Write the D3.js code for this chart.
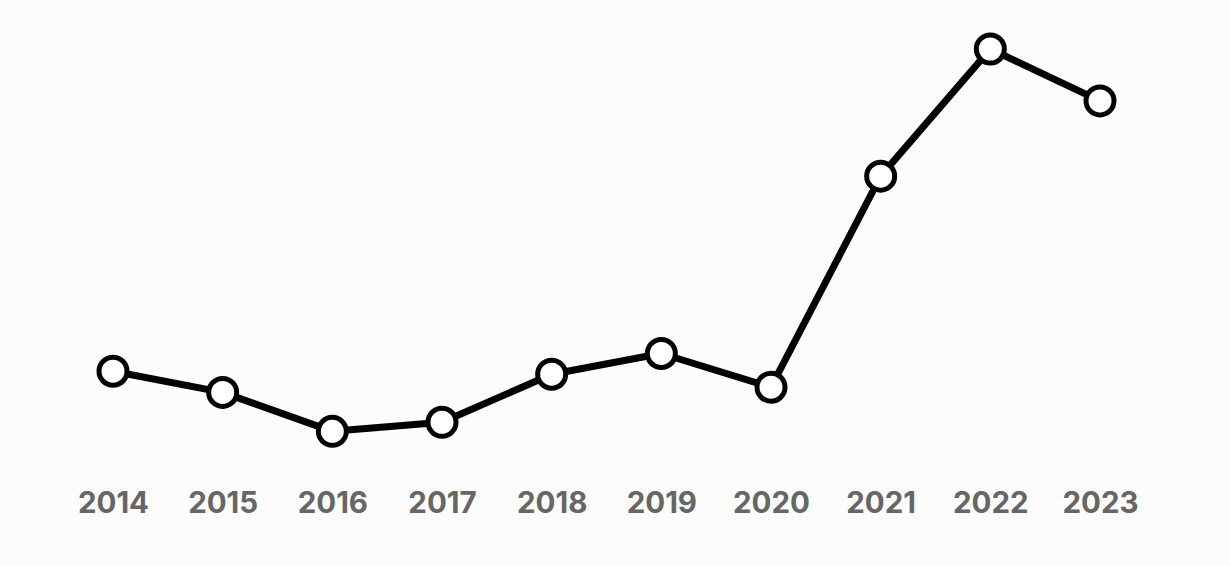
<!DOCTYPE html>
<html>
<head>
<meta charset="utf-8">
<script src="https://cdn.jsdelivr.net/npm/d3@7"></script>
<style>
  html, body { margin: 0; padding: 0; background: #fcfcfc; }
  svg { display: block; }
</style>
</head>
<body>
<div class="chart"></div>
<script>
var years = [2014, 2015, 2016, 2017, 2018, 2019, 2020, 2021, 2022, 2023];
var values = [25.5, 20.6, 11.6, 13.7, 24.8, 29.6, 21.8, 70.6, 100, 88.0];

var opts = {
  width: 1230,
  height: 566
};

var data = years.map(function(y, i){
  return { year: y, value: values[i] };
});

var svg = d3.select('.chart').append('svg')
  .attr('width', opts.width)
  .attr('height', opts.height);

// x as a point scale over the years
var x = d3.scalePoint()
  .domain(years)
  .range([113, 1100]);

var y = d3.scaleLinear()
  .domain([0, 100])
  .range([481.5, 49]);

var line = d3.line()
  .x(function(d) { return x(d.year); })
  .y(function(d) { return y(d.value); });

svg.append('path')
  .datum(data)
  .attr('fill', 'none')
  .attr('stroke', '#000')
  .attr('stroke-width', 7)
  .attr('stroke-linejoin', 'round')
  .attr('d', line);

svg.selectAll('circle.dot')
  .data(data)
  .enter()
  .append('circle')
  .attr('class', 'dot')
  .attr('cx', function(d) { return x(d.year); })
  .attr('cy', function(d) { return y(d.value); })
  .attr('r', 14)
  .attr('fill', '#fff')
  .attr('stroke', '#000')
  .attr('stroke-width', 5);

// year labels, no axis line
var xAxis = d3.axisBottom(x).tickSize(0).tickPadding(0);
var gx = svg.append('g')
  .attr('transform', 'translate(0,' + 513 + ')')
  .call(xAxis);
gx.select('.domain').remove();
gx.selectAll('text')
  .attr('dy', 0)
  .attr('fill', '#666')
  .style('font-family', 'Inter, sans-serif')
  .style('font-weight', 700)
  .style('font-size', '29.5px');
</script>
</body>
</html>
